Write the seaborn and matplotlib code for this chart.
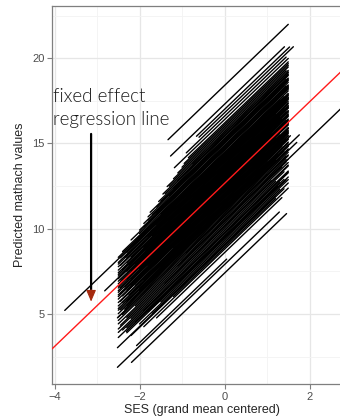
import matplotlib
matplotlib.use("Agg")
import matplotlib.pyplot as plt
import seaborn as sns
import pandas as pd

# ---- data ----
fixed_intercept = 12.66
fixed_slope = 2.39

school_intercept = [
    18.4, 17.3, 17.0, 16.8, 16.4, 16.6,
    14.2, 13.1, 14.3,
    10.5, 11.3, 11.0,
    7.4, 7.9, 8.1, 9.05, 9.5, 10.8,
    8.6, 8.8, 8.9, 9.0, 9.1, 9.2, 9.3, 9.4, 9.45, 9.55, 9.7, 9.75,
    9.6, 9.8, 9.9, 10.0, 10.1, 10.2, 10.3, 10.4, 10.5, 10.6,
    10.7, 10.8, 10.9, 11.0, 11.05, 11.1, 11.2, 11.25, 11.3, 11.4,
    11.45, 11.5, 11.6, 11.65, 11.7, 11.8, 11.85, 11.9, 12.0, 12.05,
    12.1, 12.2, 12.25, 12.3, 12.35, 12.4, 12.5, 12.55, 12.6, 12.7,
    12.75, 12.8, 12.85, 12.9, 13.0, 13.05, 13.1, 13.2, 13.25, 13.3,
    13.35, 13.4, 13.5, 13.55, 13.6, 13.7, 13.75, 13.8, 13.9, 13.95,
    14.0, 14.1, 14.15, 14.2, 14.3, 14.35, 14.4, 14.5, 14.6, 14.65,
    14.7, 14.8, 14.85, 14.9, 15.0, 15.1, 15.15, 15.2, 15.3, 15.4,
    15.5, 15.6, 15.7, 15.8, 15.9, 16.0, 16.1, 16.2,
    11.15, 11.55, 11.95, 12.15, 12.45, 12.65, 12.95, 13.15, 13.45, 13.65,
    13.85, 14.05, 14.25, 14.45, 14.75, 15.05, 15.25, 15.45, 12.0, 12.8,
    10.15, 10.45, 10.75, 11.35, 11.75, 12.3, 12.9, 13.5, 14.1, 15.6,
]
ses_min = [
    -1.33, -1.27, -0.66, -0.60, -1.18, -0.90,
    -3.76, -2.82, -2.38,
    -1.00, -2.00, -2.30,
    -2.19, -2.52, -2.07, -2.52, -2.31, -2.52,
    -1.6, -1.9, -1.2, -2.2, -1.7, -2.0, -1.5, -2.3, -1.8, -2.1, -2.3, -1.9,
    -2.5, -2.4, -2.5, -2.2, -2.5, -2.45, -2.3, -2.5, -2.1, -2.5,
    -2.4, -2.5, -2.35, -2.5, -2.2, -2.45, -2.5, -2.3, -2.5, -2.4,
    -2.5, -2.25, -2.45, -2.5, -2.1, -2.4, -2.5, -2.3, -2.5, -2.45,
    -2.5, -2.35, -2.5, -2.2, -2.5, -2.45, -2.5, -2.3, -2.5, -2.4,
    -2.5, -2.2, -2.45, -2.5, -2.3, -2.5, -2.4, -2.5, -2.25, -2.5,
    -2.4, -2.5, -2.3, -2.5, -2.2, -2.45, -2.5, -2.3, -2.5, -2.35,
    -2.5, -2.3, -2.45, -2.2, -2.5, -2.1, -2.4, -2.0, -2.2, -1.9,
    -2.0, -1.8, -1.9, -1.7, -1.8, -1.6, -1.75, -1.5, -1.55, -1.4,
    -1.45, -1.3, -1.35, -1.2, -1.1, -1.0, -0.95, -0.85,
    -2.0, -1.9, -2.2, -1.8, -2.0, -1.95, -2.1, -1.85, -1.9, -1.7,
    -1.8, -1.6, -1.75, -1.5, -1.6, -1.3, -1.2, -1.1, -1.7, -1.6,
    -1.4, -1.1, -0.9, -1.5, -1.2, -0.8, -1.0, -0.7, -0.9, -0.75,
]
ses_max = [
    1.50, 1.41, 1.53, 1.62, 1.50, 1.45,
    0.90, 1.20, 1.20,
    3.00, 1.76, 1.70,
    1.46, 1.29, 0.05, 1.20, 1.25, 1.00,
    1.35, 1.5, 1.2, 1.4, 1.5, 1.3, 1.5, 1.45, 1.5, 1.4, 1.5, 1.5,
    1.3, 1.5, 1.2, 1.4, 1.5, 1.1, 1.5, 1.35, 1.5, 1.45,
    1.5, 1.45, 1.5, 1.3, 1.5, 1.5, 1.4, 1.5, 1.5, 1.25,
    1.5, 1.5, 1.35, 1.5, 1.5, 1.45, 1.5, 1.5, 1.4, 1.5,
    1.5, 1.5, 1.45, 1.5, 1.5, 1.3, 1.5, 1.5, 1.5, 1.45,
    1.5, 1.5, 1.5, 1.4, 1.5, 1.5, 1.5, 1.35, 1.5, 1.5,
    1.5, 1.45, 1.5, 1.5, 1.5, 1.4, 1.5, 1.5, 1.5, 1.45,
    1.5, 1.5, 1.45, 1.5, 1.5, 1.5, 1.4, 1.5, 1.5, 1.5,
    1.5, 1.5, 1.5, 1.45, 1.5, 1.5, 1.5, 1.5, 1.45, 1.5,
    1.5, 1.5, 1.5, 1.45, 1.5, 1.5, 1.5, 1.5,
    1.2, 1.0, 1.3, 1.5, 1.2, 1.5, 1.1, 1.5, 1.3, 1.5,
    1.2, 1.5, 1.5, 1.3, 1.5, 1.4, 1.5, 1.5, 1.5, 1.2,
    1.5, 1.45, 1.5, 1.5, 1.55, 1.5, 1.45, 1.5, 1.5, 1.5,
]

x_ticks = [-4, -2, 0, 2]
y_ticks = [5, 10, 15, 20]
annotation_lines = ["fixed effect", "regression line"]
x_label = "SES (grand mean centered)"
y_label = "Predicted mathach values"

# ---- build a long table: two endpoints per school ----
rows = []
for i, (b, lo, hi) in enumerate(zip(school_intercept, ses_min, ses_max)):
    for s in (lo, hi):
        rows.append({"school": i, "ses": s, "pred": b + fixed_slope * s})
df = pd.DataFrame(rows)

sns.set_style("white")
plt.rcParams["font.family"] = ["Liberation Sans", "DejaVu Sans"]

fig = plt.figure(figsize=(3.4, 4.18), dpi=100)
ax = fig.add_axes([52 / 340, 1 - 384 / 418, 300 / 340, 378 / 418])

sns.lineplot(data=df, x="ses", y="pred", units="school", estimator=None,
             color="black", linewidth=1.0, ax=ax, zorder=3, legend=False)
ax.axline((0, fixed_intercept), slope=fixed_slope, color="#ff1a1a",
          linewidth=1.0, zorder=4)

ax.set_xlim(-4.06, 2.98)
ax.set_ylim(0.9, 23.06)
ax.set_xticks(x_ticks)
ax.set_yticks(y_ticks)
ax.set_xticks([-3, -1, 1, 3], minor=True)
ax.set_yticks([2.5, 7.5, 12.5, 17.5, 22.5], minor=True)
ax.grid(which="major", color="#e6e6e6", linewidth=0.9, zorder=0)
ax.grid(which="minor", color="#f3f3f3", linewidth=0.6, zorder=0)
ax.set_axisbelow(True)
ax.tick_params(which="minor", length=0)
ax.tick_params(which="major", direction="out", length=3.5, width=0.8,
               color="#7f7f7f", labelsize=8, labelcolor="#4d4d4d", pad=2,
               bottom=True, left=True)
for side in ["left", "bottom", "top", "right"]:
    ax.spines[side].set_color("#7f7f7f")
    ax.spines[side].set_linewidth(0.9)

ax.set_xlabel(x_label, fontsize=9, labelpad=2)
ax.set_ylabel(y_label, fontsize=9, labelpad=4)

# annotation
text_x = -4.03
for txt, yb in zip(annotation_lines, [17.44, 16.10]):
    ax.text(text_x, yb, txt, fontsize=13.5, family=["Lato", "DejaVu Sans"],
            fontweight=300, ha="left", va="baseline", color="#1a1a1a",
            zorder=5)
arrow_x, arrow_top, arrow_tip = -3.14, 15.56, 5.73
ax.annotate("", xy=(arrow_x, arrow_tip + 0.45), xytext=(arrow_x, arrow_top),
            arrowprops=dict(arrowstyle="-", color="black", lw=1.6,
                            shrinkA=0, shrinkB=0), zorder=5)
ax.annotate("", xy=(arrow_x, arrow_tip), xytext=(arrow_x, arrow_tip + 0.7),
            arrowprops=dict(arrowstyle="-|>,head_width=0.3,head_length=0.7",
                            color="#a52a0e", lw=0.8, shrinkA=0, shrinkB=0),
            zorder=6)

fig.savefig("out.png", dpi=100)
